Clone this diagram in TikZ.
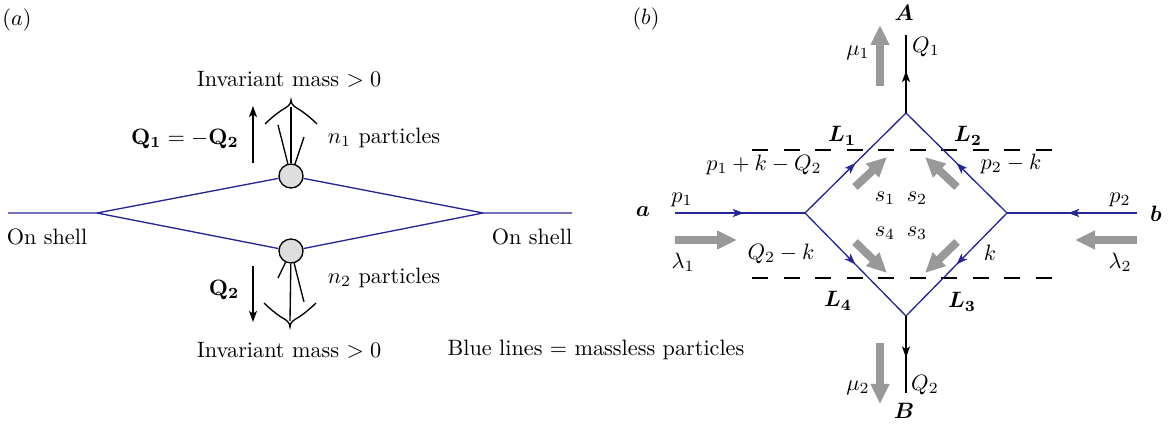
\documentclass[tikz,border=0pt]{standalone}
\usepackage{amsmath,amssymb,bm}
\usetikzlibrary{arrows.meta,decorations.markings}
\definecolor{lineblue}{RGB}{38,38,150}

\begin{document}
\begin{tikzpicture}[x=0.45pt, y=-0.45pt]
        \tikzset{
            prop/.style={draw=lineblue, line width=0.6pt},
            ext/.style ={draw, line width=0.6pt},
            midarr/.style={postaction={decorate}, decoration={markings,
                mark=at position #1 with {\arrow{Stealth[length=5pt,width=3.6pt,inset=1.2pt]}}}},
            qarr/.style={ext, -{Stealth[length=5pt,width=3.6pt,inset=1.2pt]}},
            flow/.style={draw=black!40, line width=3.6pt, -{Triangle[length=9pt,width=8pt]}},
            blob/.style={draw, circle, fill=black!13, minimum size=10.8pt, inner sep=0pt, line width=0.6pt},
            cutline/.style={line width=0.6pt, dash pattern=on 7.2pt off 7pt},
            pics/brc/.style={code={
                \draw[line width=0.6pt] (-26,24) .. controls (-21,19) and (-15,14) .. (-9,10)
                    .. controls (-4,7) and (0,5) .. (0,0)
                    .. controls (0,5) and (4,7) .. (9,10)
                    .. controls (15,14) and (21,19) .. (26,24);}}
        }
        \useasboundingbox (0,0) rectangle (1172,432);
        %% ---- (a): two-particle cut ----
        \node (tagA) at (17,20) {$(a)$};
        \coordinate (inL)  at (8,213);
        \coordinate (vL)   at (97,213);
        \coordinate (vR)   at (483,213);
        \coordinate (outR) at (572,213);
        \node[blob] (up) at (291,176) {};
        \node[blob] (dn) at (291,251) {};
        \draw[prop] (inL) -- (vL) -- (up) -- (vR) -- (outR);
        \draw[prop] (vL) -- (dn) -- (vR);
        \node (shL) at (47,237)  {On shell};
        \node (shR) at (532,237) {On shell};
        %% ---- upper jet ----
        \pic at (291,100) {brc};
        \coordinate (u0) at (291,107);
        \coordinate (u1) at (278,125);
        \coordinate (u2) at (304,137);
        \foreach \e in {u0,u1,u2} \draw[ext] (up) -- (\e);
        \node (massU) at (289,79)  {Invariant mass $>0$};
        \node (nU)    at (384,138) {$n_1$ particles};
        \coordinate (qU0) at (253,163);
        \coordinate (qU1) at (253,106);
        \draw[qarr] (qU0) -- (qU1);
        \node (qU) at (185,139) {$\mathbf{Q_1}=-\mathbf{Q_2}$};
        %% ---- lower jet ----
        \pic[yscale=-1] at (290,327) {brc};
        \coordinate (d0) at (290,321);
        \coordinate (d1) at (278,278);
        \coordinate (d2) at (304,302);
        \foreach \e in {d0,d1,d2} \draw[ext] (dn) -- (\e);
        \node (massD) at (289,350) {Invariant mass $>0$};
        \node (nD)    at (384,278) {$n_2$ particles};
        \coordinate (qD0) at (253,266);
        \coordinate (qD1) at (253,322);
        \draw[qarr] (qD0) -- (qD1);
        \node (qD) at (224,290) {$\mathbf{Q_2}$};
        \node (legend) at (596,350) {Blue lines $=$ massless particles};
        %% ---- (b): box with four cuts ----
        \node (tagB) at (646,19) {$(b)$};
        \coordinate (T)  at (906,113);
        \coordinate (Lv) at (805,213);
        \coordinate (Rv) at (1007,213);
        \coordinate (Bv) at (906,316);
        \coordinate (endA) at (906,35);
        \coordinate (endB) at (906,393);
        \coordinate (enda) at (675,213);
        \coordinate (endb) at (1137,213);
        %% ---- cuts ----
        \coordinate (cT0) at (752,150);
        \coordinate (cT1) at (1060,150);
        \coordinate (cB0) at (752,278);
        \coordinate (cB1) at (1060,278);
        \draw[cutline] (cT0) -- (cT1);
        \draw[cutline] (cB0) -- (cB1);
        %% ---- propagators ----
        \draw[prop, midarr=0.5]  (Lv) -- (T);
        \draw[prop, midarr=0.5]  (Rv) -- (T);
        \draw[prop, midarr=0.5]  (Lv) -- (Bv);
        \draw[prop, midarr=0.5]  (Rv) -- (Bv);
        \draw[prop, midarr=0.53] (enda) -- (Lv);
        \draw[prop, midarr=0.53] (endb) -- (Rv);
        \draw[ext, midarr=0.54]  (T) -- (endA);
        \draw[ext, midarr=0.54]  (Bv) -- (endB);
        %% ---- polarisation / spin arrows ----
        \coordinate (m1t) at (880,86);   \coordinate (m1h) at (880,25);
        \coordinate (m2t) at (880,343);  \coordinate (m2h) at (880,404);
        \coordinate (l1t) at (675,240);  \coordinate (l1h) at (737,240);
        \coordinate (l2t) at (1137,240); \coordinate (l2h) at (1075,240);
        \coordinate (s1t) at (855,187);  \coordinate (s1h) at (887,157);
        \coordinate (s2t) at (957,187);  \coordinate (s2h) at (925,157);
        \coordinate (s4t) at (855,242);  \coordinate (s4h) at (887,273);
        \coordinate (s3t) at (957,242);  \coordinate (s3h) at (925,273);
        \foreach \f in {m1,m2,l1,l2,s1,s2,s3,s4} \draw[flow] (\f t) -- (\f h);
        %% ---- labels ----
        \node (lA) at (904,13)  {$\bm{A}$};
        \node (lB) at (904,411) {$\bm{B}$};
        \node (la) at (643,212) {$\bm{a}$};
        \node (lb) at (1156,214) {$\bm{b}$};
        \node (Q1) at (926,47)  {$Q_1$};
        \node (Q2) at (925,385) {$Q_2$};
        \node (mu1) at (858,53)  {$\mu_1$};
        \node (mu2) at (858,388) {$\mu_2$};
        \node (p1) at (682,200)  {$p_1$};
        \node (p2) at (1120,200) {$p_2$};
        \node (lam1) at (683,262)  {$\lambda_1$};
        \node (lam2) at (1120,262) {$\lambda_2$};
        \node (L1) at (842,136) {$\bm{L_1}$};
        \node (L2) at (968,136) {$\bm{L_2}$};
        \node (L3) at (962,302) {$\bm{L_3}$};
        \node (L4) at (838,301) {$\bm{L_4}$};
        \node (kL1) at (764,165)  {$p_1+k-Q_2$};
        \node (kL2) at (1011,164) {$p_2-k$};
        \node (kL4) at (781,254)  {$Q_2-k$};
        \node (kL3) at (990,253)  {$k$};
        \node (s1) at (885,198) {$s_1$};
        \node (s2) at (917,198) {$s_2$};
        \node (s4) at (885,233) {$s_4$};
        \node (s3) at (917,233) {$s_3$};
    \end{tikzpicture}
\end{document}
